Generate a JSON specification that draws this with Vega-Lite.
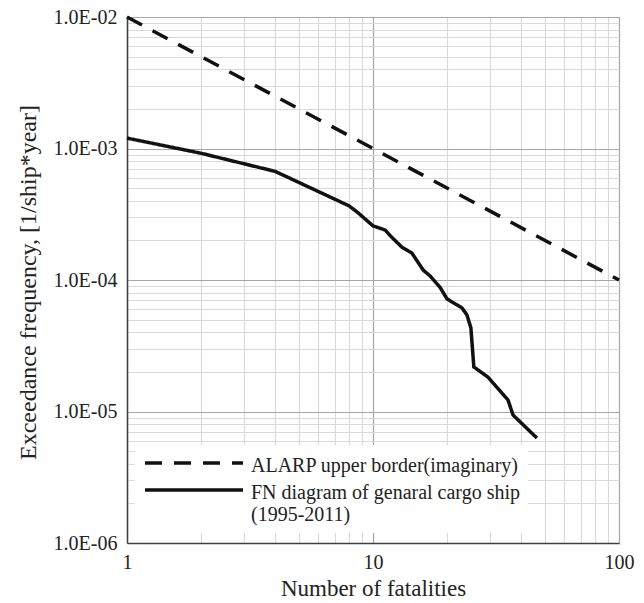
{
  "$schema": "https://vega.github.io/schema/vega-lite/v6.json",
  "width": 492,
  "height": 526,
  "autosize": "none",
  "padding": {"left": 127, "top": 17, "right": 25, "bottom": 60},
  "background": "white",
  "config": {
    "view": {"stroke": null},
    "font": "Liberation Serif",
    "legend": {
      "orient": "none",
      "legendX": 8,
      "legendY": 428,
      "padding": 8,
      "fillColor": "white",
      "strokeColor": null,
      "symbolType": "stroke",
      "symbolSize": 9604,
      "symbolStrokeWidth": 3.5,
      "clipHeight": 20,
      "rowPadding": 4,
      "labelFont": "Liberation Serif",
      "labelFontSize": 20,
      "labelColor": "#222222",
      "labelOffset": 6,
      "labelLimit": 0,
      "labelBaseline": "alphabetic",
      "title": null
    }
  },
  "data": {
    "values": [
      {"series": "ALARP upper border(imaginary)", "fatalities": 1, "freq": 0.01},
      {"series": "ALARP upper border(imaginary)", "fatalities": 100, "freq": 0.0001},
      {"series": "FN diagram of genaral cargo ship", "fatalities": 1, "freq": 0.0012},
      {"series": "FN diagram of genaral cargo ship", "fatalities": 2, "freq": 0.00092},
      {"series": "FN diagram of genaral cargo ship", "fatalities": 4, "freq": 0.00067},
      {"series": "FN diagram of genaral cargo ship", "fatalities": 8, "freq": 0.000366},
      {"series": "FN diagram of genaral cargo ship", "fatalities": 8.7, "freq": 0.000324},
      {"series": "FN diagram of genaral cargo ship", "fatalities": 10, "freq": 0.000258},
      {"series": "FN diagram of genaral cargo ship", "fatalities": 11.2, "freq": 0.00024},
      {"series": "FN diagram of genaral cargo ship", "fatalities": 11.9, "freq": 0.000212},
      {"series": "FN diagram of genaral cargo ship", "fatalities": 13.1, "freq": 0.000178},
      {"series": "FN diagram of genaral cargo ship", "fatalities": 14.4, "freq": 0.00016},
      {"series": "FN diagram of genaral cargo ship", "fatalities": 16, "freq": 0.000119},
      {"series": "FN diagram of genaral cargo ship", "fatalities": 17.1, "freq": 0.000107},
      {"series": "FN diagram of genaral cargo ship", "fatalities": 18.7, "freq": 0.0000884},
      {"series": "FN diagram of genaral cargo ship", "fatalities": 20, "freq": 0.0000718},
      {"series": "FN diagram of genaral cargo ship", "fatalities": 23, "freq": 0.0000613},
      {"series": "FN diagram of genaral cargo ship", "fatalities": 24.1, "freq": 0.0000542},
      {"series": "FN diagram of genaral cargo ship", "fatalities": 25, "freq": 0.0000432},
      {"series": "FN diagram of genaral cargo ship", "fatalities": 25.7, "freq": 0.0000218},
      {"series": "FN diagram of genaral cargo ship", "fatalities": 29.3, "freq": 0.0000183},
      {"series": "FN diagram of genaral cargo ship", "fatalities": 35.4, "freq": 0.0000122},
      {"series": "FN diagram of genaral cargo ship", "fatalities": 37.1, "freq": 0.00000939},
      {"series": "FN diagram of genaral cargo ship", "fatalities": 46.4, "freq": 0.00000628}
    ]
  },
  "mark": {"type": "line", "strokeWidth": 3.5},
  "encoding": {
    "x": {
      "field": "fatalities",
      "type": "quantitative",
      "scale": {"type": "log", "domain": [1, 100], "nice": false},
      "axis": {
        "title": "Number of fatalities",
        "values": [1, 2, 3, 4, 5, 6, 7, 8, 9, 10, 20, 30, 40, 50, 60, 70, 80, 90, 100],
        "labelExpr": "indexof([1, 10, 100], datum.value) >= 0 ? toString(datum.value) : ''",
        "grid": true,
        "gridColor": {"condition": {"test": "indexof([1, 10, 100], datum.value) >= 0", "value": "#a6a6a6"}, "value": "#d9d9d9"},
        "gridWidth": 1.2,
        "ticks": false,
        "domainColor": "#404040",
        "domainWidth": 1.5,
        "labelFont": "Liberation Serif",
        "labelFontSize": 20,
        "labelColor": "#222222",
        "labelPadding": 9,
        "labelFlush": false,
        "labelOverlap": false,
        "titleFont": "Liberation Serif",
        "titleFontSize": 23,
        "titleFontWeight": "normal",
        "titleColor": "#222222",
        "titleBaseline": "alphabetic",
        "titleY": 52
      }
    },
    "y": {
      "field": "freq",
      "type": "quantitative",
      "scale": {"type": "log", "domain": [0.000001, 0.01], "nice": false},
      "axis": {
        "title": "Exceedance frequency, [1/ship*year]",
        "values": [0.000001, 0.000002, 0.000003, 0.000004, 0.000005, 0.000006, 0.000007, 0.000008, 0.000009,
                   0.00001, 0.00002, 0.00003, 0.00004, 0.00005, 0.00006, 0.00007, 0.00008, 0.00009,
                   0.0001, 0.0002, 0.0003, 0.0004, 0.0005, 0.0006, 0.0007, 0.0008, 0.0009,
                   0.001, 0.002, 0.003, 0.004, 0.005, 0.006, 0.007, 0.008, 0.009, 0.01],
        "labelExpr": "abs(log(datum.value)/LN10 - round(log(datum.value)/LN10)) < 0.001 ? '1.0E-0' + (-round(log(datum.value)/LN10)) : ''",
        "grid": true,
        "gridColor": {"condition": {"test": "abs(log(datum.value)/LN10 - round(log(datum.value)/LN10)) < 0.001", "value": "#a6a6a6"}, "value": "#d9d9d9"},
        "gridWidth": 1.2,
        "ticks": false,
        "domainColor": "#404040",
        "domainWidth": 1.5,
        "labelFont": "Liberation Serif",
        "labelFontSize": 20,
        "labelColor": "#222222",
        "labelPadding": 10,
        "labelFlush": false,
        "labelOverlap": false,
        "titleFont": "Liberation Serif",
        "titleFontSize": 24,
        "titleFontWeight": "normal",
        "titleColor": "#222222",
        "titleAngle": -90,
        "titleBaseline": "alphabetic",
        "titleAlign": "center",
        "titleX": -92,
        "titleY": 265
      }
    },
    "color": {
      "field": "series",
      "type": "nominal",
      "scale": {"domain": ["ALARP upper border(imaginary)", "FN diagram of genaral cargo ship"], "range": ["#111111", "#111111"]},
      "legend": {
        "labelExpr": "datum.label == 'FN diagram of genaral cargo ship' ? ['FN diagram of genaral cargo ship', ' (1995-2011)'] : datum.label",
        "encode": {"labels": {"update": {"dy": {"value": 9}}}}
      }
    },
    "strokeDash": {
      "field": "series",
      "type": "nominal",
      "scale": {"domain": ["ALARP upper border(imaginary)", "FN diagram of genaral cargo ship"], "range": [[17, 12], [1, 0]]},
      "legend": {
        "labelExpr": "datum.label == 'FN diagram of genaral cargo ship' ? ['FN diagram of genaral cargo ship', ' (1995-2011)'] : datum.label",
        "encode": {"labels": {"update": {"dy": {"value": 9}}}}
      }
    }
  }
}
